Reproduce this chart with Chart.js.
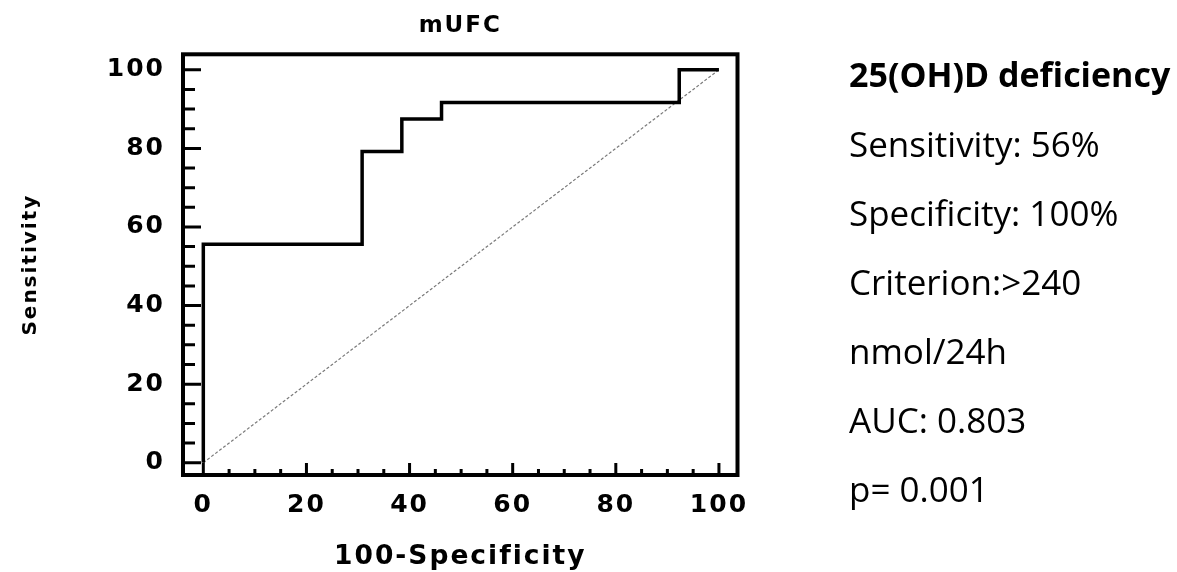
<!DOCTYPE html>
<html>
<head>
<meta charset="utf-8">
<title>mUFC ROC</title>
<script src="https://cdn.jsdelivr.net/npm/chart.js@4.4.1/dist/chart.umd.min.js"></script>
<style>
  html, body { margin: 0; background: #fff; }
  #wrap { position: relative; width: 1177px; height: 572px; }
  #info {
    position: absolute; left: 849px; top: 40px;
    font-family: "Open Sans", sans-serif; font-size: 35px; line-height: 69px; color: #000;
    white-space: nowrap;
  }
  #info .head { font-weight: bold; font-size: 34px; }
</style>
</head>
<body>
<div id="wrap">
  <canvas id="roc"></canvas>
  <div id="info">
    <div class="head">25(OH)D deficiency</div>
    <div>Sensitivity: 56%</div>
    <div>Specificity: 100%</div>
    <div>Criterion:&gt;240</div>
    <div>nmol/24h</div>
    <div>AUC: 0.803</div>
    <div>p= 0.001</div>
  </div>
</div>
<script>
// ROC curve points (100-Specificity, Sensitivity)
const fpr = [0, 0, 30.8, 38.5, 46.2, 92.3, 100];
const sens = [0, 55.6, 79.2, 87.5, 91.7, 100, 100];
// reference diagonal
const refX = [0, 100];
const refY = [0, 100];
const xTicks = [0, 20, 40, 60, 80, 100];
const yTicks = [0, 20, 40, 60, 80, 100];

const toPoints = (xs, ys) => xs.map((x, i) => ({ x, y: ys[i] }));

// the original uses a wide, spaced-out bold font
const spacing = {
  id: "spacing",
  beforeDraw(chart) { chart.ctx.letterSpacing = "2px"; }
};

// box round the plot with short ticks pointing inwards
const frame = {
  id: "frame",
  afterDatasetsDraw(chart) {
    const { ctx, chartArea: a, scales: { x, y } } = chart;
    ctx.save();
    ctx.strokeStyle = "#000";
    ctx.lineWidth = 3;
    ctx.beginPath();
    for (let v = 0; v <= 100; v += 5) {
      const major = v % 20 === 0;
      const py = y.getPixelForValue(v);
      ctx.moveTo(a.left, py);
      ctx.lineTo(a.left + (major ? 18 : 12), py);
      const px = x.getPixelForValue(v);
      ctx.moveTo(px, a.bottom);
      ctx.lineTo(px, a.bottom - (major ? 12 : 6));
    }
    ctx.stroke();
    ctx.lineWidth = 4;
    ctx.strokeRect(a.left, a.top, a.right - a.left, a.bottom - a.top);
    ctx.restore();
  }
};

Chart.defaults.font.family = "'DejaVu Sans', sans-serif";
Chart.defaults.color = "#000";

const tickFont = { size: 25, weight: "bold" };

new Chart(document.getElementById("roc"), {
  type: "scatter",
  data: {
    datasets: [
      {
        data: toPoints(fpr, sens),
        showLine: true,
        stepped: "before",
        borderColor: "#000",
        borderWidth: 3.5,
        pointRadius: 0,
        borderJoinStyle: "miter",
        fill: false
      },
      {
        data: toPoints(refX, refY),
        showLine: true,
        borderColor: "#7a7a7a",
        borderWidth: 1.2,
        borderDash: [3, 2],
        pointRadius: 0,
        fill: false
      }
    ]
  },
  options: {
    responsive: true,
    maintainAspectRatio: false,
    animation: false,
    layout: { padding: { left: 0, right: 439.5, top: 0, bottom: 0 } },
    plugins: {
      legend: { display: false },
      tooltip: { enabled: false },
      title: {
        display: true,
        text: "mUFC",
        fullSize: false,
        font: { size: 23, weight: "bold" },
        padding: { top: 12.7, bottom: 14 }
      }
    },
    scales: {
      x: {
        type: "linear",
        min: -3.94,
        max: 103.6,
        grid: { display: false, drawTicks: false },
        border: { display: false },
        afterBuildTicks: s => { s.ticks = xTicks.map(value => ({ value })); },
        afterFit: s => { s.height = 97; },
        ticks: { font: tickFont, padding: 15, autoSkip: false, maxRotation: 0 },
        title: { display: true, text: "100-Specificity", font: { size: 26.5, weight: "bold" }, padding: { top: 0, bottom: -1 } }
      },
      y: {
        type: "linear",
        min: -3.13,
        max: 103.95,
        grid: { display: false, drawTicks: false },
        border: { display: false },
        afterBuildTicks: s => { s.ticks = yTicks.map(value => ({ value })); },
        afterFit: s => { s.width = 183; },
        ticks: { font: tickFont, padding: 18, autoSkip: false },
        title: { display: true, text: "Sensitivity", font: { size: 20, weight: "bold" }, padding: { top: 19, bottom: 0 } }
      }
    }
  },
  plugins: [spacing, frame]
});
</script>
</body>
</html>
